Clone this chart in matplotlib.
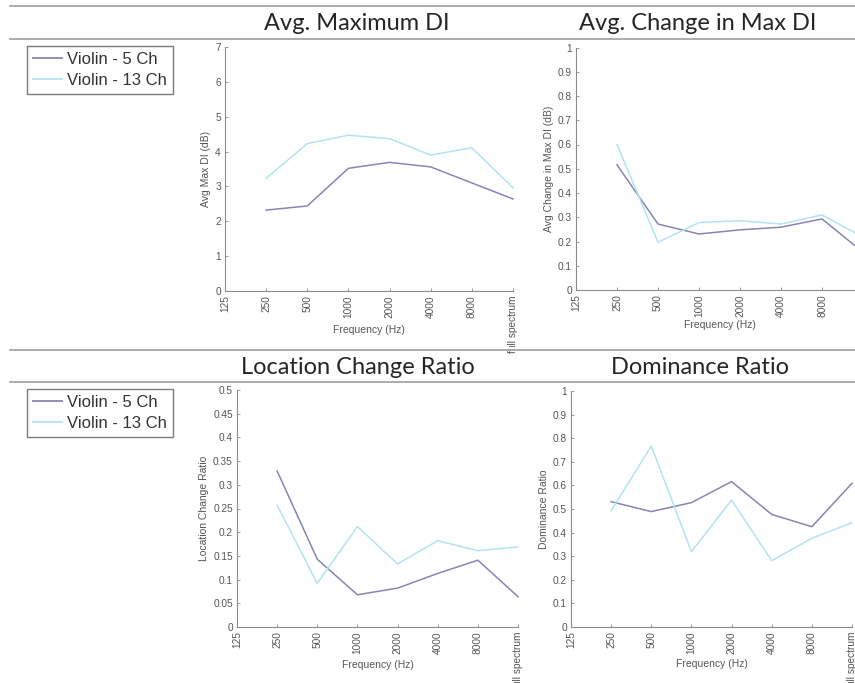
import matplotlib
matplotlib.use("Agg")
import matplotlib.pyplot as plt
from matplotlib.lines import Line2D
from matplotlib.patches import Rectangle
from matplotlib.ticker import FuncFormatter

# Frequency bands shown on every x axis
bands = ["125", "250", "500", "1000", "2000", "4000", "8000", "full spectrum"]
series_names = ["Violin - 5 Ch", "Violin - 13 Ch"]

# Values per band from 250 Hz to full spectrum
max_di_5ch = [2.32, 2.44, 3.52, 3.69, 3.56, 3.10, 2.64]
max_di_13ch = [3.23, 4.23, 4.47, 4.37, 3.90, 4.11, 2.96]

change_di_5ch = [0.516, 0.272, 0.231, 0.248, 0.259, 0.293, 0.156]
change_di_13ch = [0.600, 0.197, 0.278, 0.286, 0.272, 0.310, 0.218]

loc_ratio_5ch = [0.329, 0.143, 0.068, 0.082, 0.113, 0.141, 0.064]
loc_ratio_13ch = [0.257, 0.092, 0.212, 0.133, 0.182, 0.161, 0.169]

dom_ratio_5ch = [0.531, 0.489, 0.527, 0.616, 0.477, 0.425, 0.609]
dom_ratio_13ch = [0.493, 0.767, 0.319, 0.538, 0.281, 0.376, 0.442]

C5 = "#8785b5"
C13 = "#b3e3f0"
AXC = "#8c8c8c"
TXC = "#555555"

W, H = 855, 683
fig = plt.figure(figsize=(W / 100, H / 100), dpi=100)
fig.patch.set_facecolor("white")
plt.rcParams["font.family"] = ["Liberation Sans", "DejaVu Sans"]


def fbox(x0, y0, x1, y1):
    """Pixel box (top-left origin) -> figure fraction rect."""
    return [x0 / W, 1 - y1 / H, (x1 - x0) / W, (y1 - y0) / H]


def panel(px, s5, s13, ymax, ystep, ylabel, xlab_y):
    x0, y0, x1, y1 = px
    ax = fig.add_axes(fbox(*px))
    xs = list(range(1, len(bands)))
    l5, = ax.plot(xs, s5, color=C5, lw=1.1, label=series_names[0], clip_on=False)
    l13, = ax.plot(xs, s13, color=C13, lw=1.1, label=series_names[1], clip_on=False)
    ax.set_xlim(0, len(bands) - 1)
    ax.set_ylim(0, ymax)
    n = int(round(ymax / ystep))
    ax.set_yticks([i * ystep for i in range(n + 1)])
    ax.yaxis.set_major_formatter(FuncFormatter(lambda v, p: "%g" % round(v, 3)))
    ax.set_xticks(range(len(bands)))
    ax.set_xticklabels(bands, rotation=90, va="top")
    for s in ("top", "right"):
        ax.spines[s].set_visible(False)
    for s in ("left", "bottom"):
        ax.spines[s].set_color(AXC)
        ax.spines[s].set_linewidth(0.8)
    ax.tick_params(direction="in", length=2.5, width=0.6, color=AXC,
                   labelsize=7.3, labelcolor=TXC, pad=3)
    ax.set_xlabel("Frequency (Hz)", fontsize=7.5, color=TXC, va="center")
    ax.xaxis.set_label_coords(0.5, -(xlab_y - y1) / (y1 - y0))
    ax.set_ylabel(ylabel, fontsize=7.5, color=TXC, labelpad=3)
    ax.patch.set_alpha(0)
    return ax, l5, l13


ax1, h5, h13 = panel((225, 47, 513, 291), max_di_5ch, max_di_13ch, 7, 1,
                     "Avg Max DI (dB)", 330)
ax2, _, _ = panel((576, 47.5, 863, 290), change_di_5ch, change_di_13ch, 1, 0.1,
                  "Avg Change in Max DI (dB)", 325)
ax3, _, _ = panel((237, 390, 518, 627), loc_ratio_5ch, loc_ratio_13ch, 0.5, 0.05,
                  "Location Change Ratio", 665)
ax4, _, _ = panel((571, 391, 852, 627), dom_ratio_5ch, dom_ratio_13ch, 1, 0.1,
                  "Dominance Ratio", 664)

# Section titles
title_kw = dict(fontsize=17, color="#262626", family=["Lato", "DejaVu Sans"],
                ha="center", va="center")
fig.text(357 / W, 1 - 24 / H, "Avg. Maximum DI", **title_kw)
fig.text(698 / W, 1 - 24 / H, "Avg. Change in Max DI", **title_kw)
fig.text(358 / W, 1 - 367 / H, "Location Change Ratio", **title_kw)
fig.text(700 / W, 1 - 367 / H, "Dominance Ratio", **title_kw)

# White band closing off the upper section, then the separator rules
fig.add_artist(Rectangle((0, 1 - 349 / H), 1, 2.5 / H, transform=fig.transFigure,
                         facecolor="white", edgecolor="none", zorder=20))
for y in (6, 39, 350, 382):
    fig.add_artist(Line2D([10 / W, 1], [1 - y / H, 1 - y / H], transform=fig.transFigure,
                          color="#a6a6a6", lw=1.3, zorder=21))

# Legends
for top in (46, 389):
    leg = fig.legend([h5, h13], series_names, loc="upper left",
                     bbox_to_anchor=(27 / W, 1 - top / H), bbox_transform=fig.transFigure,
                     borderaxespad=0, fancybox=False, frameon=True, fontsize=12,
                     handlelength=1.75, handletextpad=0.3, labelspacing=0.38,
                     borderpad=0.35, labelcolor="#333333")
    leg.get_frame().set_edgecolor("#5a5a5a")
    leg.get_frame().set_linewidth(1.0)
    for ln in leg.get_lines():
        ln.set_linewidth(1.3)

fig.savefig("out.png", dpi=100)
